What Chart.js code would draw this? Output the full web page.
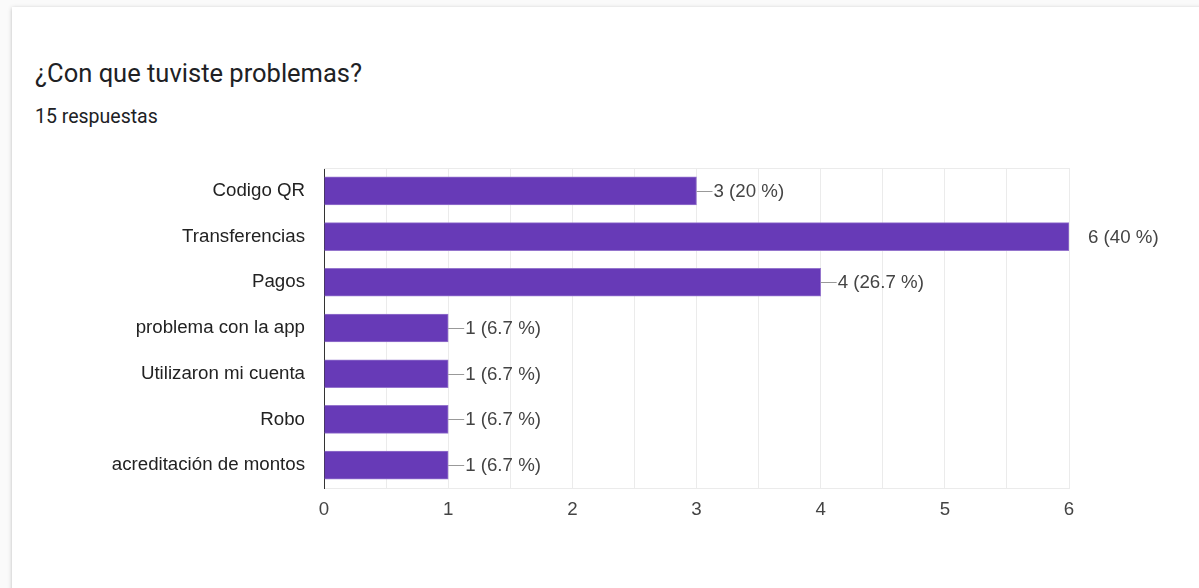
<!DOCTYPE html>
<html>
<head>
<meta charset="utf-8">
<script src="https://cdn.jsdelivr.net/npm/chart.js@4/dist/chart.umd.min.js"></script>
<style>
  html, body { margin: 0; padding: 0; background: #fafafa; }
  body { width: 1199px; height: 588px; position: relative; overflow: hidden; }
  .card {
    position: absolute; left: 12px; top: 7px; width: 1200px; height: 600px;
    background: #fff; box-shadow: 0 1px 4px rgba(0,0,0,0.25);
  }
  .titulo {
    position: absolute; left: 35px; top: 58px; margin: 0; line-height: normal;
    font: 400 25.5px Roboto, sans-serif; color: #202124;
  }
  .respuestas {
    position: absolute; left: 35px; top: 105px; line-height: normal;
    font: 400 19.5px Roboto, sans-serif; color: #202124;
  }
  #grafico { position: absolute; left: 0; top: 0; }
</style>
</head>
<body>
<div class="card"></div>
<h1 class="titulo">¿Con que tuviste problemas?</h1>
<div class="respuestas">15 respuestas</div>
<canvas id="grafico" width="1199" height="588"></canvas>
<script>
// respuestas del formulario (se puede marcar mas de una opcion)
var categorias = ["Codigo QR", "Transferencias", "Pagos", "problema con la app",
                  "Utilizaron mi cuenta", "Robo", "acreditación de montos"];
var valores = [3, 6, 4, 1, 1, 1, 1];
var totalRespuestas = 15;
var ticksX = [0, 1, 2, 3, 4, 5, 6];

var fuente = 'Arial, "Liberation Sans", sans-serif';
var tamano = 18.7;

// porcentaje sobre el total de respuestas, ej. "4 (26.7 %)"
function etiqueta(v){
  var p = Math.round(v / totalRespuestas * 1000) / 10;
  return v + " (" + p + " %)";
}

// linea superior del area del grafico
var marcoSuperior = {
  id: 'marcoSuperior',
  beforeDatasetsDraw: function(chart){
    var a = chart.chartArea, ctx = chart.ctx;
    ctx.save();
    ctx.strokeStyle = '#ebebeb';
    ctx.lineWidth = 1;
    ctx.beginPath();
    ctx.moveTo(a.left, a.top + 0.5);
    ctx.lineTo(a.right, a.top + 0.5);
    ctx.stroke();
    ctx.restore();
  }
};

// etiquetas de valor con su linea guia
var etiquetasValor = {
  id: 'etiquetasValor',
  afterDatasetsDraw: function(chart){
    var ctx = chart.ctx;
    var maximo = Math.max.apply(null, valores);
    var meta = chart.getDatasetMeta(0);
    ctx.save();
    ctx.font = tamano + 'px ' + fuente;
    ctx.textBaseline = 'middle';
    ctx.textAlign = 'left';
    meta.data.forEach(function(barra, i){
      var x = barra.x, y = Math.round(barra.y) + 0.5;
      if (valores[i] == maximo) {
        ctx.fillStyle = '#444';
        ctx.fillText(etiqueta(valores[i]), x + 19, y);
      } else {
        ctx.strokeStyle = '#999';
        ctx.lineWidth = 1;
        ctx.beginPath();
        ctx.moveTo(x, y);
        ctx.lineTo(x + 16, y);
        ctx.stroke();
        ctx.fillStyle = '#444';
        ctx.fillText(etiqueta(valores[i]), x + 17, y);
      }
    });
    ctx.restore();
  }
};

var chart = new Chart(document.getElementById("grafico"), {
  type: 'bar',
  data: {
    labels: categorias,
    datasets: [{
      data: valores,
      backgroundColor: '#673ab7',
      borderColor: '#9575cd',
      borderWidth: 1,
      borderSkipped: 'left',
      barThickness: 28
    }]
  },
  options: {
    indexAxis: 'y',
    responsive: false,
    animation: false,
    layout: { padding: { left: 0, top: 168, right: 130, bottom: 60 } },
    plugins: { legend: { display: false }, tooltip: { enabled: false } },
    scales: {
      x: {
        type: 'linear',
        min: ticksX[0],
        max: ticksX[ticksX.length - 1],
        ticks: {
          stepSize: 0.5,
          autoSkip: false,
          maxRotation: 0,
          padding: 11,
          color: '#444',
          font: { family: fuente, size: tamano },
          callback: function(v){ return ticksX.indexOf(v) >= 0 ? v : ''; }
        },
        grid: { color: '#ebebeb', drawTicks: false },
        border: { color: '#ebebeb' },
        afterFit: function(scale){ scale.height = 40; }
      },
      y: {
        ticks: {
          padding: 11,
          color: '#222',
          font: { family: fuente, size: tamano }
        },
        grid: { display: false },
        border: { color: '#333', width: 1 },
        afterFit: function(scale){ scale.width = 324; }
      }
    }
  },
  plugins: [marcoSuperior, etiquetasValor]
});
</script>
</body>
</html>
